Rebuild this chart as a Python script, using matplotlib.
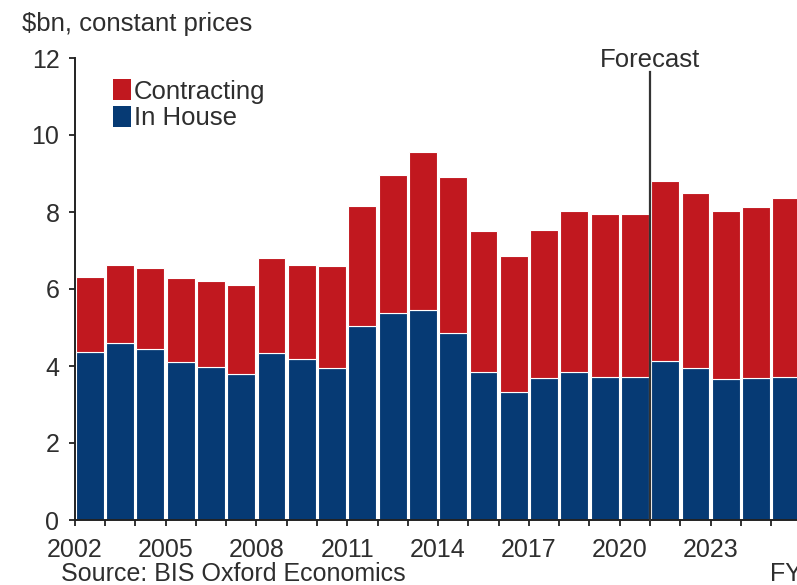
import matplotlib
matplotlib.use("Agg")
import matplotlib.pyplot as plt
from matplotlib.patches import Patch

years = list(range(2002, 2026))
in_house = [4.37, 4.59, 4.43, 4.11, 3.98, 3.79, 4.33, 4.17, 3.94, 5.04, 5.37, 5.45,
            4.87, 3.85, 3.32, 3.70, 3.84, 3.71, 3.72, 4.14, 3.94, 3.66, 3.68, 3.72]
contracting = [1.93, 2.03, 2.12, 2.18, 2.24, 2.31, 2.48, 2.45, 2.66, 3.12, 3.59, 4.10,
               4.05, 3.66, 3.54, 3.83, 4.19, 4.24, 4.23, 4.67, 4.56, 4.37, 4.46, 4.65]
tick_years = [2002, 2005, 2008, 2011, 2014, 2017, 2020, 2023]
forecast_start = 2021

RED = "#c1181f"
BLUE = "#063a74"
TXT = "#2e2e2e"

plt.rcParams['font.family'] = ['Liberation Sans', 'DejaVu Sans']

W, H = 797, 585
fig = plt.figure(figsize=(W / 100, H / 100), dpi=100)
ax_left = 74.7 / W
ax_bottom = 1 - 520 / H
ax_top = 1 - 58 / H
ax = fig.add_axes([ax_left, ax_bottom, 1 - ax_left, ax_top - ax_bottom])

x = [i + 0.5 for i in range(len(years))]
ax.bar(x, in_house, width=0.92, color=BLUE, edgecolor="white", linewidth=0.8)
ax.bar(x, contracting, bottom=in_house, width=0.92, color=RED, edgecolor="white", linewidth=0.8)

px_per_unit = 30.28
ax.set_xlim(0, (W - 74.7) / px_per_unit)
ax.set_ylim(0, 12)

for s in ["top", "right"]:
    ax.spines[s].set_visible(False)
for s in ["left", "bottom"]:
    ax.spines[s].set_color("#222222")
    ax.spines[s].set_linewidth(1.4)

ax.set_yticks([0, 2, 4, 6, 8, 10, 12])
ax.set_yticklabels(["0", "2", "4", "6", "8", "10", "12"])
ax.set_xticks(range(len(years)))
ax.set_xticklabels([str(y) if y in tick_years else "" for y in years])
ax.tick_params(axis="both", direction="out", length=4, width=1.3, color="#222222",
               labelsize=18, labelcolor=TXT)
ax.tick_params(axis="y", pad=7)
ax.tick_params(axis="x", pad=9)

fi = years.index(forecast_start)
ax.plot([fi, fi], [0, 11.64], color="#333333", lw=1.6, clip_on=False, zorder=5)
ax.text(fi, 11.77, "Forecast", ha="center", va="baseline", fontsize=18.5, color=TXT,
        clip_on=False)

handles = [Patch(facecolor=RED, edgecolor="none", label="Contracting"),
           Patch(facecolor=BLUE, edgecolor="none", label="In House")]
ax.legend(handles=handles, loc="upper left", bbox_to_anchor=(113 / W, 1 - 79 / H),
          bbox_transform=fig.transFigure, frameon=False, fontsize=18.5,
          handlelength=0.7, handleheight=0.9, handletextpad=0.1, labelspacing=0.08,
          borderpad=0, borderaxespad=0, labelcolor=TXT)

fig.text(22 / W, 1 - 31 / H, "\\$bn, constant prices", ha="left", va="baseline",
         fontsize=18.5, color=TXT)
fig.text(61 / W, 1 - 581 / H, "Source: BIS Oxford Economics", ha="left", va="baseline",
         fontsize=18, color=TXT)
fig.text(770 / W, 1 - 581 / H, "FY", ha="left", va="baseline", fontsize=18, color=TXT)

fig.savefig("out.png", dpi=100)
